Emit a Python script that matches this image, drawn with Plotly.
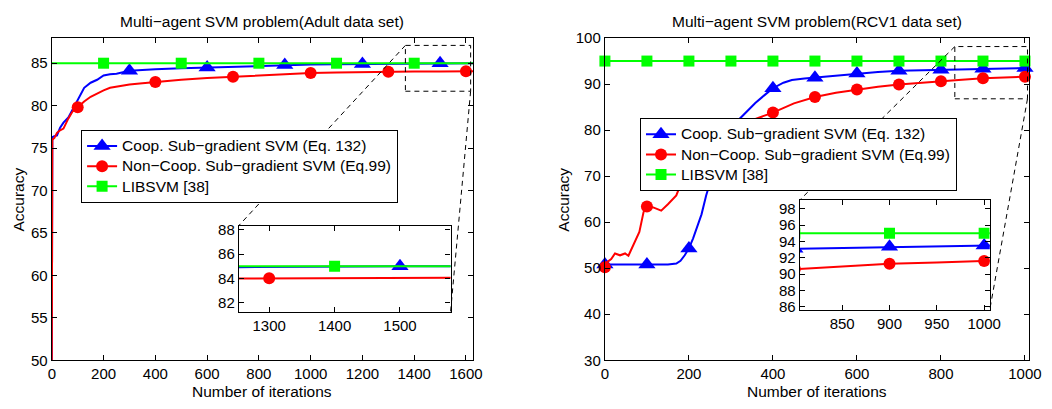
import plotly.graph_objects as go

# ---------------- Adult data set ----------------
adult_iter = [0, 2, 10, 20, 32, 45, 64, 80, 100, 125, 150, 175, 200, 225, 250, 275,
              300, 350, 400, 500, 600, 700, 800, 900, 1000, 1100, 1200, 1300, 1400,
              1500, 1600, 1630]
adult_coop = [50.0, 76.3, 76.4, 76.5, 77.4, 78.0, 78.6, 79.5, 80.7, 82.1, 82.7, 83.05,
              83.55, 83.7, 83.75, 83.9, 84.1, 84.2, 84.3, 84.4, 84.5, 84.6, 84.7, 84.78,
              84.84, 84.88, 84.91, 84.94, 84.97, 85.0, 85.0, 85.0]
adult_noncoop = [50.0, 76.0, 76.2, 76.8, 77.1, 77.3, 78.5, 79.3, 79.8, 80.5, 81.05, 81.45,
                 81.8, 82.1, 82.25, 82.4, 82.5, 82.65, 82.8, 83.05, 83.25, 83.4, 83.6,
                 83.75, 83.85, 83.92, 83.97, 84.0, 84.02, 84.03, 84.05, 84.05]
adult_lib_iter = [0, 200, 500, 800, 1100, 1400, 1630]
adult_lib = [85.0, 85.0, 85.0, 85.0, 85.0, 85.0, 85.0]

adult_coop_marks = [300, 600, 900, 1200, 1500]
adult_noncoop_marks = [100, 400, 700, 1000, 1300, 1600]
adult_lib_marks = [200, 500, 800, 1100, 1400]

# ---------------- RCV1 data set ----------------
rcv_coop_iter = [0, 50, 100, 150, 170, 180, 190, 200, 210, 217, 230, 241, 250, 260, 280,
                 300, 318, 340, 358, 380, 400, 425, 445, 475, 500, 550, 600, 650, 700,
                 750, 800, 850, 900, 950, 1000, 1010]
rcv_coop = [50.8, 50.8, 50.8, 50.8, 51.0, 51.6, 52.8, 54.3, 56.5, 58.4, 61.7, 65.8, 68.6,
            71.5, 76.0, 79.5, 82.2, 84.3, 85.9, 87.6, 89.1, 90.3, 90.9, 91.2, 91.4, 91.9,
            92.3, 92.6, 92.9, 93.0, 93.1, 93.2, 93.35, 93.45, 93.5, 93.5]
rcv_noncoop_iter = [0, 5, 15, 24, 36, 48, 56, 64, 75, 82, 92, 100, 115, 134, 150, 158,
                    170, 182, 200, 225, 250, 275, 300, 320, 342, 370, 400, 450, 500, 550,
                    600, 650, 700, 750, 800, 850, 900, 950, 1000, 1010]
rcv_noncoop = [50.2, 51.3, 52.0, 53.2, 52.8, 53.2, 52.7, 54.2, 56.3, 57.9, 62.2, 63.4,
               63.2, 62.5, 63.9, 64.7, 65.8, 68.6, 71.0, 73.8, 76.0, 78.0, 79.8, 81.0,
               81.9, 82.9, 83.8, 85.8, 87.2, 88.1, 88.8, 89.4, 89.9, 90.3, 90.6, 90.95,
               91.25, 91.4, 91.6, 91.65]
rcv_lib_iter = [0, 100, 200, 300, 400, 500, 600, 700, 800, 900, 1000, 1010]
rcv_lib = [95.0] * 12

rcv_marks = [0, 100, 200, 300, 400, 500, 600, 700, 800, 900, 1000]

# ---------------- labels ----------------
name_coop = "Coop. Sub\u2212gradient SVM (Eq. 132)"
name_noncoop = "Non\u2212Coop. Sub\u2212gradient SVM (Eq.99)"
name_lib = "LIBSVM [38]"
title_adult = "Multi\u2212agent SVM problem(Adult data set)"
title_rcv = "Multi\u2212agent SVM problem(RCV1 data set)"
xlabel = "Number of iterations"
ylabel = "Accuracy"

adult_xticks = [0, 200, 400, 600, 800, 1000, 1200, 1400, 1600]
adult_yticks = [50, 55, 60, 65, 70, 75, 80, 85]
adult_inset_xticks = [1300, 1400, 1500]
adult_inset_yticks = [82, 84, 86, 88]
rcv_xticks = [0, 200, 400, 600, 800, 1000]
rcv_yticks = [30, 40, 50, 60, 70, 80, 90, 100]
rcv_inset_xticks = [850, 900, 950, 1000]
rcv_inset_yticks = [86, 88, 90, 92, 94, 96, 98]

# ---------------- figure geometry ----------------
W, H = 1052, 409
FONT = "Liberation Sans, Arial, Helvetica, sans-serif"
TICK_SIZE = 15
TEXT_SIZE = 15.5
LEGEND_ROW_SIZE = 13.2   # sets the legend row pitch; the entry text itself is TEXT_SIZE
BLUE, RED, GREEN = "#0000ff", "#ff0000", "#00ff00"


def px_x(p):
    return p / W


def px_y(p):
    return 1 - p / H


dom = {
    "x": [px_x(48.5), px_x(476)], "y": [px_y(366.5), px_y(30)],
    "x2": [px_x(609.6), px_x(1040)], "y2": [px_y(366.5), px_y(30.3)],
    "x3": [px_x(238.3), px_x(453)], "y3": [px_y(316.5), px_y(225.9)],
    "x4": [px_x(807.3), px_x(1000)], "y4": [px_y(314), px_y(199.3)],
}
rng = {
    "x": [0, 1628], "y": [50, 88],
    "x2": [0, 1010], "y2": [30, 100],
    "x3": [1253.7, 1577.3], "y3": [81.18, 88.37],
    "x4": [805.2, 1005.9], "y4": [85.6, 99.06],
}


def to_paper(ax, v):
    d, r = dom[ax], rng[ax]
    return d[0] + (v - r[0]) / (r[1] - r[0]) * (d[1] - d[0])


def pick(xs, ys, marks):
    lookup = dict(zip(xs, ys))
    return marks, [lookup[m] for m in marks]


fig = go.Figure()


def add_series(xs, ys, marks, color, symbol, msize, xa, ya, clip):
    fig.add_trace(go.Scatter(x=xs, y=ys, mode="lines", line=dict(color=color, width=2),
                             xaxis=xa, yaxis=ya, showlegend=False, hoverinfo="skip"))
    mx, my = pick(xs, ys, marks)
    fig.add_trace(go.Scatter(x=mx, y=my, mode="markers",
                             marker=dict(color=color, symbol=symbol, size=msize,
                                         line=dict(width=0)),
                             xaxis=xa, yaxis=ya, showlegend=False, hoverinfo="skip",
                             cliponaxis=clip))


TRI, CIR, SQ = ("triangle-up", 15), ("circle", 12), ("square", 11)

for xa, ya, clip in [("x", "y", False), ("x3", "y3", True)]:
    add_series(adult_iter, adult_coop, adult_coop_marks, BLUE, *TRI, xa, ya, clip)
    add_series(adult_iter, adult_noncoop, adult_noncoop_marks, RED, *CIR, xa, ya, clip)
    add_series(adult_lib_iter, adult_lib, adult_lib_marks, GREEN, *SQ, xa, ya, clip)

for xa, ya, clip in [("x2", "y2", False), ("x4", "y4", True)]:
    add_series(rcv_coop_iter, rcv_coop, rcv_marks, BLUE, *TRI, xa, ya, clip)
    add_series(rcv_noncoop_iter, rcv_noncoop, rcv_marks, RED, *CIR, xa, ya, clip)
    add_series(rcv_lib_iter, rcv_lib, rcv_marks, GREEN, *SQ, xa, ya, clip)


def legend_label(s):
    return f'<span style="font-size:{TEXT_SIZE}px">{s}</span>'


# legend entries
for leg in ["legend", "legend2"]:
    for name, color, (sym, size) in [(name_coop, BLUE, TRI), (name_noncoop, RED, CIR),
                                     (name_lib, GREEN, SQ)]:
        fig.add_trace(go.Scatter(x=[None], y=[None], mode="lines+markers",
                                 name=legend_label(name),
                                 line=dict(color=color, width=2),
                                 marker=dict(color=color, symbol=sym, size=size),
                                 legend=leg, showlegend=True))


def axis(key, ticks, anchor):
    return dict(domain=dom[key], range=rng[key], tickvals=ticks, anchor=anchor,
                ticks="inside", ticklen=5, tickwidth=1, tickcolor="black",
                mirror="allticks", showline=True, linecolor="black", linewidth=1.3,
                showgrid=False, zeroline=False,
                tickfont=dict(family=FONT, size=TICK_SIZE, color="black"))


legend_style = dict(bgcolor="white", bordercolor="black", borderwidth=1.2,
                    font=dict(family=FONT, size=LEGEND_ROW_SIZE, color="black"),
                    xanchor="left", yanchor="top", tracegroupgap=0)

# zoom boxes (main-axis data coordinates) and their connectors
adult_box = dict(x0=1366, x1=1618, y0=81.7, y1=87.1)
rcv_box = dict(x0=833, x1=1006, y0=86.8, y1=98.15)
dash = dict(color="black", width=1, dash="5px,4px")

shapes = [
    dict(type="rect", xref="x", yref="y", line=dash, **adult_box),
    dict(type="rect", xref="x2", yref="y2", line=dash, **rcv_box),
    dict(type="line", xref="paper", yref="paper", line=dash,
         x0=to_paper("x", adult_box["x0"]), y0=to_paper("y", adult_box["y1"]),
         x1=dom["x3"][0], y1=dom["y3"][1]),
    dict(type="line", xref="paper", yref="paper", line=dash,
         x0=to_paper("x", adult_box["x1"]), y0=to_paper("y", adult_box["y0"]),
         x1=dom["x3"][1], y1=dom["y3"][0]),
    dict(type="line", xref="paper", yref="paper", line=dash,
         x0=to_paper("x2", rcv_box["x0"]), y0=to_paper("y2", rcv_box["y1"]),
         x1=dom["x4"][0], y1=dom["y4"][1]),
    dict(type="line", xref="paper", yref="paper", line=dash,
         x0=to_paper("x2", rcv_box["x1"]), y0=to_paper("y2", rcv_box["y0"]),
         x1=dom["x4"][1], y1=dom["y4"][0]),
]


def text(s, x, y, angle=0):
    return dict(text=s, x=px_x(x), y=px_y(y), xref="paper", yref="paper",
                showarrow=False, textangle=angle, xanchor="center", yanchor="middle",
                font=dict(family=FONT, size=TEXT_SIZE, color="black"))


annotations = [
    text(title_adult, 262, 13),
    text(title_rcv, 825, 13),
    text(xlabel, 262, 399),
    text(xlabel, 825, 399),
    text(ylabel, 15, 199, angle=-90),
    text(ylabel, 568, 199, angle=-90),
]

fig.update_layout(
    width=W, height=H, margin=dict(l=0, r=0, t=0, b=0),
    paper_bgcolor="white", plot_bgcolor="white",
    xaxis=axis("x", adult_xticks, "y"), yaxis=axis("y", adult_yticks, "x"),
    xaxis2=axis("x2", rcv_xticks, "y2"), yaxis2=axis("y2", rcv_yticks, "x2"),
    xaxis3=axis("x3", adult_inset_xticks, "y3"), yaxis3=axis("y3", adult_inset_yticks, "x3"),
    xaxis4=axis("x4", rcv_inset_xticks, "y4"), yaxis4=axis("y4", rcv_inset_yticks, "x4"),
    legend=dict(x=px_x(78), y=px_y(126), **legend_style),
    legend2=dict(x=px_x(645), y=px_y(113.7), **legend_style),
    shapes=shapes, annotations=annotations,
)

fig.write_html("out.html")
